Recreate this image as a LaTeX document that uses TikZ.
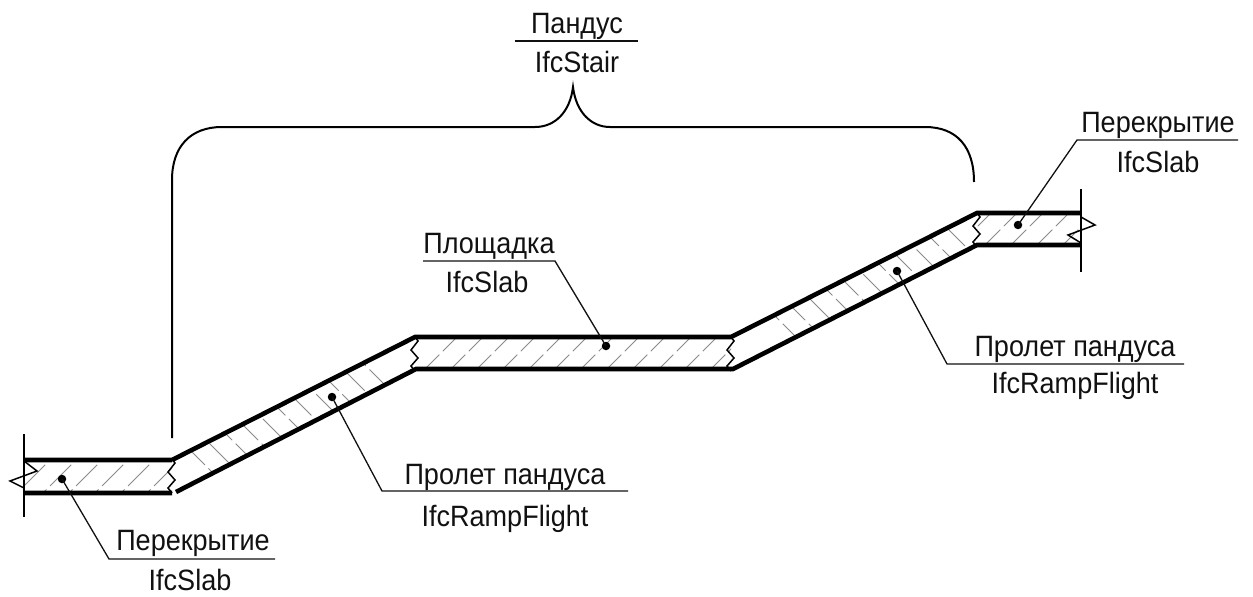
\documentclass[tikz,border=0pt]{standalone}
\usepackage{fontspec}
\setmainfont[FakeStretch=0.92]{Liberation Sans}
\definecolor{ink}{HTML}{111111}
\definecolor{hatchgray}{HTML}{8A8A8A}
\tikzset{
  lbl/.style={anchor=base,inner sep=0pt,text=ink,font=\fontsize{29.4}{32}\selectfont},
  heavy/.style={draw=black,line width=4.6pt,line cap=butt},
  endline/.style={draw=black,line width=2.6pt},
  brk/.style={draw=black,line width=1.5pt,line join=miter},
  leader/.style={draw=ink,line width=1.3pt},
  bracel/.style={draw=black,line width=2pt},
  hatchl/.style={draw=hatchgray,line width=0.8pt,dash pattern=on 30pt off 5pt},
  dotm/.style={circle,fill=black,inner sep=0pt,minimum size=8.5pt}
}
\begin{document}
\begin{tikzpicture}[x=1pt,y=-1pt]
\useasboundingbox (0,0) rectangle (1253,597);
\fill[white] (0,0) rectangle (1253,597);
% hatching: flat parts
\begin{scope}
\clip (25,460) -- (172,460) -- (172,492) -- (25,492) -- cycle;
\foreach \k in {0,...,6}{\draw[hatchl] ({510+26*\k-440},440) -- ({510+26*\k-510},510);}
\end{scope}
\begin{scope}
\clip (416,337) -- (731,337) -- (731,369) -- (416,369) -- cycle;
\foreach \k in {0,...,13}{\draw[hatchl] ({794+26*\k-330},330) -- ({794+26*\k-375},375);}
\end{scope}
\begin{scope}
\clip (977,213) -- (1081,213) -- (1081,245) -- (977,245) -- cycle;
\foreach \k in {-3,...,3}{\draw[hatchl] ({1256+26*\k-205},205) -- ({1256+26*\k-250},250);}
\end{scope}
% hatching: ramps
\begin{scope}
\clip (173,459) -- (415,337) -- (415,369) -- (175,492) -- cycle;
\foreach \k in {0,...,10}{\draw[hatchl] ({-260+26*\k+320},320) -- ({-260+26*\k+500},500);}
\end{scope}
\begin{scope}
\clip (731,337) -- (977,213) -- (977,245) -- (733,369) -- cycle;
\foreach \k in {-9,...,1}{\draw[hatchl] ({693+26*\k+200},200) -- ({693+26*\k+380},380);}
\end{scope}
% body outlines
\draw[heavy] (24,460) -- (172,460) (172,460) -- (415,337) -- (731,337) -- (977,213) -- (1081,213);
\draw[heavy] (24,493) -- (172,493) (176,492) -- (416,369) -- (731,369) -- (733,369) -- (977,245) -- (1081,245);
% end lines
\draw[endline] (24,434) -- (24,517);
\draw[endline] (1081,189) -- (1081,272);
% break marks
\draw[brk] (24,461) -- (37,471) -- (10,481) -- (24,488);
\draw[brk] (1081,217) -- (1095,225) -- (1068,235) -- (1081,243);
\draw[brk] (172,459) -- (175,463) -- (168,472) -- (175,480) -- (168,488) -- (172,493);
\draw[brk] (415,337) -- (418,341) -- (411,350) -- (418,358) -- (411,366) -- (415,371);
\draw[brk] (731,337) -- (734,341) -- (727,350) -- (734,358) -- (727,366) -- (731,371);
\draw[brk] (977,213) -- (980,217) -- (973,226) -- (980,234) -- (973,242) -- (977,247);
% brace
\coordinate (bl) at (172,438);
\coordinate (br) at (974,182);
\coordinate (bt) at (573,87);
\draw[bracel] (bl) -- (172,180) .. controls (172,147) and (190,127) .. (222,127) -- (535,127)
  .. controls (555,127) and (570,112) .. (bt) .. controls (576,112) and (591,127) .. (610,127)
  -- (925,127) .. controls (957,127) and (974,147) .. (br);
% labels
\node[lbl] (t0a) at (577,33) {Пандус};
\node[lbl] (t0b) at (577,72) {IfcStair};
\coordinate (h0a) at (515,41); \coordinate (h0b) at (638,41);
\draw[leader] (h0a) -- (h0b);

\node[dotm] (d1) at (62,479) {};
\coordinate (k1) at (109,559); \coordinate (e1) at (275,559);
\draw[leader] (d1.center) -- (k1) -- (e1);
\node[lbl] (t1a) at (193,550) {Перекрытие};
\node[lbl] (t1b) at (190,590) {IfcSlab};

\node[dotm] (d2) at (332,397) {};
\coordinate (k2) at (382,491); \coordinate (e2) at (628,491);
\draw[leader] (d2.center) -- (k2) -- (e2);
\node[lbl] (t2a) at (505,484) {Пролет пандуса};
\node[lbl] (t2b) at (505,526) {IfcRampFlight};

\node[dotm] (d3) at (606,346) {};
\coordinate (k3) at (555,261); \coordinate (e3) at (423,261);
\draw[leader] (d3.center) -- (k3) -- (e3);
\node[lbl] (t3a) at (489,253) {Площадка};
\node[lbl] (t3b) at (487,292) {IfcSlab};

\node[dotm] (d4) at (897,271) {};
\coordinate (k4) at (947,364); \coordinate (e4) at (1184,364);
\draw[leader] (d4.center) -- (k4) -- (e4);
\node[lbl] (t4a) at (1075,356) {Пролет пандуса};
\node[lbl] (t4b) at (1075,393) {IfcRampFlight};

\node[dotm] (d5) at (1018,225) {};
\coordinate (k5) at (1077,140); \coordinate (e5) at (1238,140);
\draw[leader] (d5.center) -- (k5) -- (e5);
\node[lbl] (t5a) at (1158,132) {Перекрытие};
\node[lbl] (t5b) at (1158,172) {IfcSlab};
\end{tikzpicture}
\end{document}
